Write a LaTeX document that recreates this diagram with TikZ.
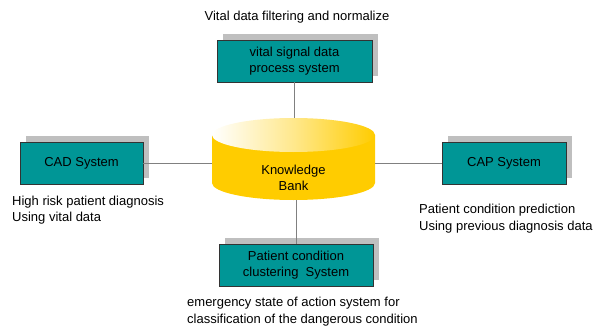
\documentclass[tikz,border=0pt]{standalone}
\usepackage{fontspec}
\setmainfont{Liberation Sans}
\usetikzlibrary{shadows}
\definecolor{tealbox}{RGB}{0,150,150}
\definecolor{kbyellow}{RGB}{255,204,0}
\definecolor{linegray}{RGB}{128,128,128}
\begin{document}
\begin{tikzpicture}[x=1pt,y=1pt,
  font=\fontsize{13}{16.5}\selectfont,
  sysbox/.style={draw=black!80, line width=0.6pt, fill=tealbox, minimum height=42pt,
    align=center, inner sep=0pt,
    general shadow={fill=black!25, shadow xshift=6pt, shadow yshift=6pt}},
  note/.style={align=left, anchor=west, inner sep=0pt},
  link/.style={draw=linegray, line width=0.9pt}]
\useasboundingbox (0,0) rectangle (595,325);
% cylinder
\fill[kbyellow] (212,190) -- (212,142) arc[start angle=180, end angle=360, x radius=81.5, y radius=17] -- (375,190) -- cycle;
\shade[left color=white, right color=kbyellow, middle color=kbyellow!45] (293.5,190) ellipse[x radius=81.5, y radius=17];
\node[minimum width=163pt, minimum height=82pt, inner sep=0pt, align=center] (kb) at (293.5,166) {};
\node[align=center, inner sep=0pt] (kbtext) at (293.5,147) {Knowledge\\Bank};
% boxes
\node[sysbox, minimum width=155pt] (top) at (294.5,264) {vital signal data\\process system};
\node[sysbox, minimum width=123pt] (cad) at (81.5,162) {CAD System};
\node[sysbox, minimum width=124pt] (cap) at (504,162) {CAP System};
\node[sysbox, minimum width=154pt] (bot) at (296,60) {Patient condition\\clustering\ \ System};
% connectors
\draw[link] (top.south) -- (top.south |- kb.north);
\draw[link] (cad.east) -- (cad.east -| kb.west);
\draw[link] (cap.west) -- (cap.west -| kb.east);
\draw[link] (bot.north) -- (bot.north |- kb.south);
% annotations
\node[inner sep=0pt] (title) at (297,308) {Vital data filtering and normalize};
\node[note] (cadnote) at (12,115) {High risk patient diagnosis\\Using vital data};
\node[note] (capnote) at (419,106.5) {Patient condition prediction\\Using previous diagnosis data};
\node[note] (botnote) at (187,13.5) {emergency state of action system for\\classification of the dangerous condition};
\end{tikzpicture}
\end{document}
